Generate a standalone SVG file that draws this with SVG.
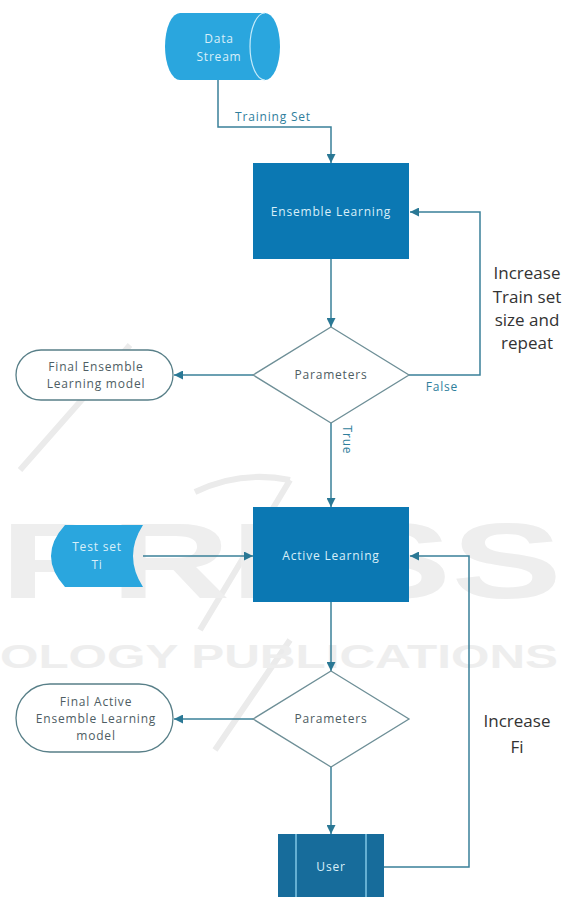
<svg xmlns="http://www.w3.org/2000/svg" width="575" height="897" viewBox="0 0 575 897">
<style>
.wm{font-family:"Liberation Sans",Arial,sans-serif;font-weight:bold;fill:#eeeeee}
.wml{fill:none;stroke:#ebebeb;stroke-width:6}
.lbl{font-family:"Open Sans","Noto Sans",sans-serif;font-size:12px;letter-spacing:0.8px;text-anchor:middle}
.in{fill:#d8eff9}
.dk{fill:#4e5d63}
.cl{fill:#2f7e9c}
.big{font-family:"Open Sans","Noto Sans",sans-serif;font-size:17px;fill:#333333;text-anchor:middle}
.con{fill:none;stroke:#3a8099;stroke-width:1.5}
.box{fill:#0b78b3}
.light{fill:#2aa6de}
.dia{fill:#ffffff;stroke:#6e8f97;stroke-width:1.3}
.pill{fill:#ffffff;stroke:#587f88;stroke-width:1.3}
</style>
<defs>
<marker id="arr" viewBox="0 0 10 10" refX="10" refY="5" markerUnits="userSpaceOnUse" markerWidth="9" markerHeight="9" orient="auto">
<path d="M0,0 L10,5 L0,10 Z" fill="#2a7895"/>
</marker>
</defs>
<rect width="575" height="897" fill="#ffffff"/>
<g id="watermark">
<path class="wml" d="M20,470 L130,345 M195,492 Q240,470 290,480 M290,480 L200,630 M290,640 L215,750"/>
<text class="wm" x="0" y="598" font-size="108" textLength="562" lengthAdjust="spacingAndGlyphs">PRESS</text>
<text class="wm" x="0" y="668" font-size="34" textLength="558" lengthAdjust="spacingAndGlyphs">OLOGY PUBLICATIONS</text>
</g>
<g id="connectors">
<path class="con" d="M218,80 V127 H331 V163" marker-end="url(#arr)"/>
<path class="con" d="M331,259 V327" marker-end="url(#arr)"/>
<path class="con" d="M253,375 H174" marker-end="url(#arr)"/>
<path class="con" d="M409,375 H480 V212 H410" marker-end="url(#arr)"/>
<path class="con" d="M331,423 V507" marker-end="url(#arr)"/>
<path class="con" d="M143,556 H253" marker-end="url(#arr)"/>
<path class="con" d="M331,602 V671" marker-end="url(#arr)"/>
<path class="con" d="M253,719 H174" marker-end="url(#arr)"/>
<path class="con" d="M331,767 V834" marker-end="url(#arr)"/>
<path class="con" d="M384,867 H469 V556 H410" marker-end="url(#arr)"/>
<text class="lbl cl" x="273" y="121">Training Set</text>
<text class="lbl cl" x="442" y="391">False</text>
<text class="lbl cl" transform="translate(343,440) rotate(90)">True</text>
<text class="big" x="527" y="279">Increase</text>
<text class="big" x="527" y="303">Train set</text>
<text class="big" x="527" y="326">size and</text>
<text class="big" x="527" y="349">repeat</text>
<text class="big" x="517" y="727">Increase</text>
<text class="big" x="517" y="753">Fi</text>
</g>
<g id="data-stream">
<path class="light" d="M180,13 H265 A15,33.5 0 0 1 265,80 H180 A15,33.5 0 0 1 180,13 Z"/>
<path d="M265,13 A15,33.5 0 0 0 265,80" fill="none" stroke="#c6ebfa" stroke-width="1.2"/>
<text class="lbl in" x="219" y="43">Data</text>
<text class="lbl in" x="219" y="61">Stream</text>
</g>
<g id="ensemble-learning">
<rect class="box" x="253" y="163" width="156" height="96"/>
<text class="lbl in" x="331" y="216">Ensemble Learning</text>
</g>
<g id="parameters-1">
<path class="dia" d="M331,327 L409,375 L331,423 L253,375 Z"/>
<text class="lbl dk" x="331" y="379">Parameters</text>
</g>
<g id="final-ensemble">
<rect class="pill" x="16" y="350" width="157" height="50" rx="25"/>
<text class="lbl dk" x="96" y="371">Final Ensemble</text>
<text class="lbl dk" x="96" y="388">Learning model</text>
</g>
<g id="test-set">
<path class="light" d="M65,525 H143 Q123,556 143,587 H65 Q37,556 65,525 Z"/>
<text class="lbl in" x="97" y="551">Test set</text>
<text class="lbl in" x="97" y="569">Ti</text>
</g>
<g id="active-learning">
<rect class="box" x="253" y="507" width="156" height="95"/>
<text class="lbl in" x="331" y="560">Active Learning</text>
</g>
<g id="parameters-2">
<path class="dia" d="M331,671 L409,719 L331,767 L253,719 Z"/>
<text class="lbl dk" x="331" y="723">Parameters</text>
</g>
<g id="final-active">
<rect class="pill" x="16" y="684" width="157" height="68" rx="34"/>
<text class="lbl dk" x="96" y="706">Final Active</text>
<text class="lbl dk" x="96" y="723">Ensemble Learning</text>
<text class="lbl dk" x="96" y="740">model</text>
</g>
<g id="user">
<rect x="278" y="834" width="106" height="75" fill="#176c9b"/>
<path d="M296,834 V909 M366,834 V909" stroke="#8fd5f2" stroke-width="1.3"/>
<text class="lbl in" x="331" y="871">User</text>
</g>
</svg>
